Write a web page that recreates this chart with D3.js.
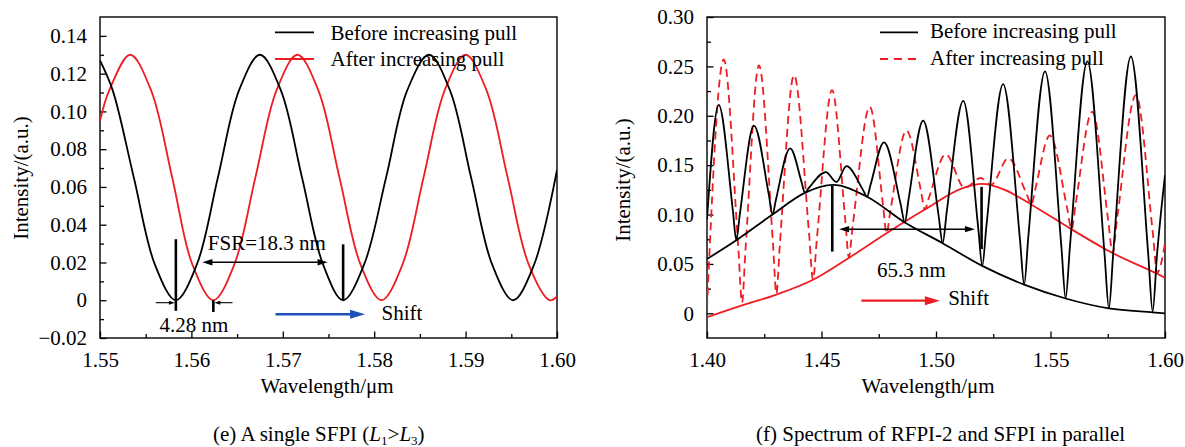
<!DOCTYPE html>
<html>
<head>
<meta charset="utf-8">
<script src="https://cdn.jsdelivr.net/npm/d3@7"></script>
<style>
  body { margin: 0; background: #fff; }
  svg { display: block; }
  text { font-family: "Liberation Serif", "Times New Roman", serif; fill: #000; }
</style>
</head>
<body>
<svg id="chart" width="1185" height="447"></svg>
<script>
// ---------- Panel (e): a single SFPI ----------
const eBeforeWl  = [1.5500, 1.5514, 1.5537, 1.5560, 1.5583, 1.5606, 1.5629, 1.5652, 1.5675, 1.5698, 1.5721, 1.5744, 1.5766, 1.5789, 1.5813, 1.5836, 1.5860, 1.5883, 1.5906, 1.5929, 1.5952, 1.5975, 1.6000];
const eBeforeVal = [0.127, 0.111, 0.065, 0.019, 0.000, 0.019, 0.065, 0.111, 0.130, 0.111, 0.065, 0.019, 0.000, 0.019, 0.065, 0.111, 0.130, 0.111, 0.065, 0.019, 0.000, 0.019, 0.069];
const eAfterWl   = [1.5500, 1.5510, 1.5533, 1.5556, 1.5579, 1.5601, 1.5624, 1.5647, 1.5670, 1.5693, 1.5716, 1.5739, 1.5762, 1.5785, 1.5808, 1.5831, 1.5854, 1.5877, 1.5900, 1.5923, 1.5946, 1.5969, 1.5992, 1.6000];
const eAfterVal  = [0.095, 0.111, 0.130, 0.111, 0.065, 0.019, 0.000, 0.019, 0.065, 0.111, 0.130, 0.111, 0.065, 0.019, 0.000, 0.019, 0.065, 0.111, 0.130, 0.111, 0.065, 0.019, 0.000, 0.002];
const eXTicks = [1.55, 1.56, 1.57, 1.58, 1.59, 1.60];
const eYTicks = [-0.02, 0, 0.02, 0.04, 0.06, 0.08, 0.10, 0.12, 0.14];

// ---------- Panel (f): RFPI-2 and SFPI in parallel ----------
// fringe spectra: peaks, troughs and trough flanks (wavelength, intensity)
const fBeforeWl  = [1.4000, 1.4051, 1.4113, 1.4128, 1.4143, 1.4205, 1.4270, 1.4286, 1.4301, 1.4363, 1.4414, 1.4427, 1.4445, 1.4519, 1.4565, 1.4609, 1.4681, 1.4699, 1.4714, 1.4773, 1.4846, 1.4864, 1.4880, 1.4944, 1.5012, 1.5029, 1.5047, 1.5119, 1.5185, 1.5202, 1.5220, 1.5293, 1.5367, 1.5385, 1.5403, 1.5476, 1.5548, 1.5566, 1.5585, 1.5661, 1.5736, 1.5755, 1.5774, 1.5851, 1.5927, 1.5946, 1.5965, 1.6000];
const fBeforeVal = [0.095, 0.211, 0.104, 0.074, 0.0995, 0.190, 0.120, 0.100, 0.115, 0.167, 0.132, 0.122, 0.127, 0.143, 0.133, 0.149, 0.125, 0.118, 0.130, 0.173, 0.110, 0.092, 0.115, 0.195, 0.098, 0.071, 0.103, 0.215, 0.085, 0.048, 0.088, 0.232, 0.074, 0.029, 0.077, 0.245, 0.066, 0.015, 0.068, 0.255, 0.060, 0.005, 0.061, 0.260, 0.059, 0.002, 0.059, 0.140];
const fAfterWl   = [1.4000, 1.4073, 1.4137, 1.4153, 1.4168, 1.4227, 1.4288, 1.4303, 1.4318, 1.4380, 1.4446, 1.4463, 1.4480, 1.4546, 1.4604, 1.4619, 1.4637, 1.4711, 1.4769, 1.4784, 1.4801, 1.4871, 1.4935, 1.4951, 1.4969, 1.5043, 1.5125, 1.5195, 1.5240, 1.5316, 1.5397, 1.5417, 1.5433, 1.5497, 1.5573, 1.5592, 1.5610, 1.5682, 1.5753, 1.5771, 1.5791, 1.5873, 1.5947, 1.5966, 1.6000];
const fAfterVal  = [0.005, 0.257, 0.065, 0.011, 0.064, 0.251, 0.071, 0.020, 0.069, 0.241, 0.080, 0.034, 0.076, 0.226, 0.094, 0.057, 0.090, 0.209, 0.109, 0.081, 0.104, 0.185, 0.123, 0.105, 0.117, 0.161, 0.127, 0.137, 0.130, 0.157, 0.120, 0.110, 0.125, 0.180, 0.106, 0.085, 0.111, 0.204, 0.092, 0.061, 0.096, 0.221, 0.081, 0.041, 0.071];
// smooth envelopes
const fEnvBeforeWl  = [1.400, 1.4128, 1.4286, 1.4427, 1.455, 1.4699, 1.4864, 1.5029, 1.5202, 1.5385, 1.5566, 1.5755, 1.5946, 1.600];
const fEnvBeforeVal = [0.055, 0.074, 0.100, 0.122, 0.130, 0.118, 0.092, 0.071, 0.048, 0.029, 0.015, 0.005, 0.001, 0.000];
const fEnvAfterWl   = [1.400, 1.4153, 1.4303, 1.4463, 1.4619, 1.4784, 1.4951, 1.5120, 1.5200, 1.5300, 1.5417, 1.5592, 1.5771, 1.5966, 1.600];
const fEnvAfterVal  = [-0.004, 0.008, 0.019, 0.034, 0.056, 0.081, 0.105, 0.127, 0.131, 0.125, 0.110, 0.085, 0.061, 0.040, 0.036];
const fXTicks = [1.40, 1.45, 1.50, 1.55, 1.60];
const fYTicks = [0, 0.05, 0.10, 0.15, 0.20, 0.25, 0.30];

const legendLabels = ["Before increasing pull", "After increasing pull"];
const RED = "#ee1d23";
const BLUE = "#1f4fb4";
const FONT = 21;

const svg = d3.select("#chart");
const zip = (xs, ys) => xs.map((x, i) => [x, ys[i]]);
const fmt = v => v === 0 ? "0" : d3.format(".2f")(v).replace("-", "\u2212");

function arrowHead(g, x, y, dir, len, half, color) {
  // dir: +1 points right, -1 points left
  const p = d3.path();
  p.moveTo(x, y);
  p.lineTo(x - dir * len, y - half);
  p.lineTo(x - dir * len, y + half);
  p.closePath();
  g.append("path").attr("d", p.toString()).attr("fill", color);
}

function panel(opts) {
  const { x, y, xTicks, xMinor, yTicks, yMinor, id } = opts;
  const g = svg.append("g");
  const [x0, x1] = x.range();
  const [y0, y1] = y.range();

  g.append("clipPath").attr("id", id).append("rect")
    .attr("x", x0).attr("y", y1).attr("width", x1 - x0).attr("height", y0 - y1);

  // axes with inward ticks
  g.append("g").attr("transform", `translate(0,${y0})`)
    .call(d3.axisBottom(x).tickValues(xTicks).tickSize(-6.5).tickPadding(14).tickFormat(d3.format(".2f")));
  g.append("g").attr("transform", `translate(0,${y0})`)
    .call(d3.axisBottom(x).tickValues(xMinor).tickSize(-4).tickFormat(""));
  g.append("g").attr("transform", `translate(${x0},0)`)
    .call(d3.axisLeft(y).tickValues(yTicks).tickSize(-6.5).tickPadding(13).tickFormat(fmt));
  g.append("g").attr("transform", `translate(${x0},0)`)
    .call(d3.axisLeft(y).tickValues(yMinor).tickSize(-4).tickFormat(""));
  g.selectAll(".domain").remove();
  g.selectAll(".tick line").attr("stroke", "#000").attr("stroke-width", 1.3);
  g.selectAll(".tick text").attr("font-size", FONT).attr("fill", "#000");

  // frame
  g.append("rect").attr("x", x0).attr("y", y1).attr("width", x1 - x0).attr("height", y0 - y1)
    .attr("fill", "none").attr("stroke", "#000").attr("stroke-width", 1.4);

  const plot = g.append("g").attr("clip-path", `url(#${id})`);
  return { g, plot };
}

// ================= Panel (e) =================
const ex = d3.scaleLinear().domain([1.55, 1.60]).range([100, 557]);
const ey = d3.scaleLinear().domain([-0.02, 0.15]).range([338, 17]);
const pe = panel({
  id: "clipE", x: ex, y: ey,
  xTicks: eXTicks, xMinor: [1.555, 1.565, 1.575, 1.585, 1.595],
  yTicks: eYTicks, yMinor: [-0.01, 0.01, 0.03, 0.05, 0.07, 0.09, 0.11, 0.13]
});
const eLine = d3.line().x(d => ex(d[0])).y(d => ey(d[1])).curve(d3.curveCatmullRom.alpha(0.5));

pe.plot.append("path").attr("d", eLine(zip(eAfterWl, eAfterVal)))
  .attr("fill", "none").attr("stroke", RED).attr("stroke-width", 1.8);
pe.plot.append("path").attr("d", eLine(zip(eBeforeWl, eBeforeVal)))
  .attr("fill", "none").attr("stroke", "#000").attr("stroke-width", 1.8);

// annotations (e)
const ea = pe.g.append("g");
ea.append("line").attr("x1", ex(1.5583)).attr("x2", ex(1.5583)).attr("y1", ey(0.0323)).attr("y2", ey(-0.0056))
  .attr("stroke", "#000").attr("stroke-width", 2.6);
ea.append("line").attr("x1", ex(1.5624)).attr("x2", ex(1.5624)).attr("y1", ey(0)).attr("y2", ey(-0.0062))
  .attr("stroke", "#000").attr("stroke-width", 2.6);
ea.append("line").attr("x1", ex(1.5766)).attr("x2", ex(1.5766)).attr("y1", ey(0.0296)).attr("y2", ey(0))
  .attr("stroke", "#000").attr("stroke-width", 2.6);
// FSR double arrow
ea.append("line").attr("x1", ex(1.5612) + 8).attr("x2", ex(1.5749) - 8).attr("y1", ey(0.0201)).attr("y2", ey(0.0201))
  .attr("stroke", "#000").attr("stroke-width", 1.5);
arrowHead(ea, ex(1.5612), ey(0.0201), -1, 10, 3.2, "#000");
arrowHead(ea, ex(1.5749), ey(0.0201), 1, 10, 3.2, "#000");
// 4.28 nm marks
ea.append("line").attr("x1", ex(1.5561)).attr("x2", ex(1.5583) - 5).attr("y1", ey(-0.0013)).attr("y2", ey(-0.0013))
  .attr("stroke", "#000").attr("stroke-width", 1.1);
arrowHead(ea, ex(1.5583) - 1, ey(-0.0013), 1, 6, 2, "#000");
ea.append("line").attr("x1", ex(1.5645)).attr("x2", ex(1.5624) + 5).attr("y1", ey(-0.0013)).attr("y2", ey(-0.0013))
  .attr("stroke", "#000").attr("stroke-width", 1.1);
arrowHead(ea, ex(1.5624) + 1, ey(-0.0013), -1, 6, 2, "#000");
ea.append("text").attr("x", ex(1.5618)).attr("y", ey(0.0266)).attr("font-size", FONT).text("FSR=18.3 nm");
ea.append("text").attr("x", ex(1.5565)).attr("y", ey(-0.0166)).attr("font-size", FONT).text("4.28 nm");
// shift arrow
ea.append("line").attr("x1", ex(1.5692)).attr("x2", ex(1.5790) - 10).attr("y1", ey(-0.0074)).attr("y2", ey(-0.0074))
  .attr("stroke", BLUE).attr("stroke-width", 2.4);
arrowHead(ea, ex(1.5790), ey(-0.0074), 1, 15, 4.5, BLUE);
ea.append("text").attr("x", ex(1.5808)).attr("y", ey(-0.0104)).attr("font-size", FONT).text("Shift");

// legend (e)
const le = pe.g.append("g");
le.append("line").attr("x1", 275).attr("x2", 314).attr("y1", 32.3).attr("y2", 32.3).attr("stroke", "#000").attr("stroke-width", 1.8);
le.append("line").attr("x1", 275).attr("x2", 314).attr("y1", 59).attr("y2", 59).attr("stroke", RED).attr("stroke-width", 1.8);
le.append("text").attr("x", 330.5).attr("y", 40).attr("font-size", FONT).text(legendLabels[0]);
le.append("text").attr("x", 330.5).attr("y", 66).attr("font-size", FONT).text(legendLabels[1]);

// axis titles (e)
svg.append("text").attr("x", 327).attr("y", 393).attr("text-anchor", "middle").attr("font-size", FONT).text("Wavelength/\u03bcm");
svg.append("text").attr("transform", "translate(28,178) rotate(-90)").attr("text-anchor", "middle").attr("font-size", FONT).text("Intensity/(a.u.)");

// caption (e)
const capE = svg.append("text").attr("x", 213).attr("y", 441).attr("font-size", FONT);
capE.append("tspan").text("(e) A single SFPI (");
capE.append("tspan").attr("font-style", "italic").text("L");
capE.append("tspan").attr("font-size", 13).attr("dy", 4).text("1");
capE.append("tspan").attr("dy", -4).text(">");
capE.append("tspan").attr("font-style", "italic").text("L");
capE.append("tspan").attr("font-size", 13).attr("dy", 4).text("3");
capE.append("tspan").attr("dy", -4).text(")");

// ================= Panel (f) =================
const fx = d3.scaleLinear().domain([1.40, 1.60]).range([707, 1165]);
const fy = d3.scaleLinear().domain([-0.025, 0.30]).range([338, 17]);
const pf = panel({
  id: "clipF", x: fx, y: fy,
  xTicks: fXTicks, xMinor: [1.425, 1.475, 1.525, 1.575],
  yTicks: fYTicks, yMinor: [0.025, 0.075, 0.125, 0.175, 0.225, 0.275]
});
const fLine = d3.line().x(d => fx(d[0])).y(d => fy(d[1])).curve(d3.curveMonotoneX);

pf.plot.append("path").attr("d", fLine(zip(fAfterWl, fAfterVal)))
  .attr("fill", "none").attr("stroke", RED).attr("stroke-width", 1.8).attr("stroke-dasharray", "8,5");
pf.plot.append("path").attr("d", fLine(zip(fEnvAfterWl, fEnvAfterVal)))
  .attr("fill", "none").attr("stroke", RED).attr("stroke-width", 1.8);
pf.plot.append("path").attr("d", fLine(zip(fEnvBeforeWl, fEnvBeforeVal)))
  .attr("fill", "none").attr("stroke", "#000").attr("stroke-width", 1.8);
pf.plot.append("path").attr("d", fLine(zip(fBeforeWl, fBeforeVal)))
  .attr("fill", "none").attr("stroke", "#000").attr("stroke-width", 1.8);

// annotations (f)
const fa = pf.g.append("g");
fa.append("line").attr("x1", fx(1.4547)).attr("x2", fx(1.4547)).attr("y1", fy(0.129)).attr("y2", fy(0.0625))
  .attr("stroke", "#000").attr("stroke-width", 2.6);
fa.append("line").attr("x1", fx(1.5199)).attr("x2", fx(1.5199)).attr("y1", fy(0.128)).attr("y2", fy(0.065))
  .attr("stroke", "#000").attr("stroke-width", 2.6);
fa.append("line").attr("x1", fx(1.4577) + 8).attr("x2", fx(1.5170) - 8).attr("y1", fy(0.0852)).attr("y2", fy(0.0852))
  .attr("stroke", "#000").attr("stroke-width", 1.5);
arrowHead(fa, fx(1.4577), fy(0.0852), -1, 10, 3.2, "#000");
arrowHead(fa, fx(1.5170), fy(0.0852), 1, 10, 3.2, "#000");
fa.append("text").attr("x", fx(1.4742)).attr("y", fy(0.0371)).attr("font-size", FONT).text("65.3 nm");
fa.append("line").attr("x1", fx(1.4674)).attr("x2", fx(1.5017) - 10).attr("y1", fy(0.0128)).attr("y2", fy(0.0128))
  .attr("stroke", RED).attr("stroke-width", 2.4);
arrowHead(fa, fx(1.5017), fy(0.0128), 1, 15, 4.5, RED);
fa.append("text").attr("x", fx(1.5053)).attr("y", fy(0.0084)).attr("font-size", FONT).text("Shift");

// legend (f)
const lf = pf.g.append("g");
lf.append("line").attr("x1", 880).attr("x2", 918).attr("y1", 32.3).attr("y2", 32.3).attr("stroke", "#000").attr("stroke-width", 1.8);
lf.append("line").attr("x1", 880).attr("x2", 918).attr("y1", 59).attr("y2", 59).attr("stroke", RED).attr("stroke-width", 1.8).attr("stroke-dasharray", "8,6");
lf.append("text").attr("x", 930).attr("y", 38).attr("font-size", FONT).text(legendLabels[0]);
lf.append("text").attr("x", 930).attr("y", 64.5).attr("font-size", FONT).text(legendLabels[1]);

// axis titles (f)
svg.append("text").attr("x", 928).attr("y", 393).attr("text-anchor", "middle").attr("font-size", FONT).text("Wavelength/\u03bcm");
svg.append("text").attr("transform", "translate(630,180) rotate(-90)").attr("text-anchor", "middle").attr("font-size", FONT).text("Intensity/(a.u.)");

// caption (f)
svg.append("text").attr("x", 756).attr("y", 441).attr("font-size", FONT).text("(f) Spectrum of RFPI-2 and SFPI in parallel");
</script>
</body>
</html>
